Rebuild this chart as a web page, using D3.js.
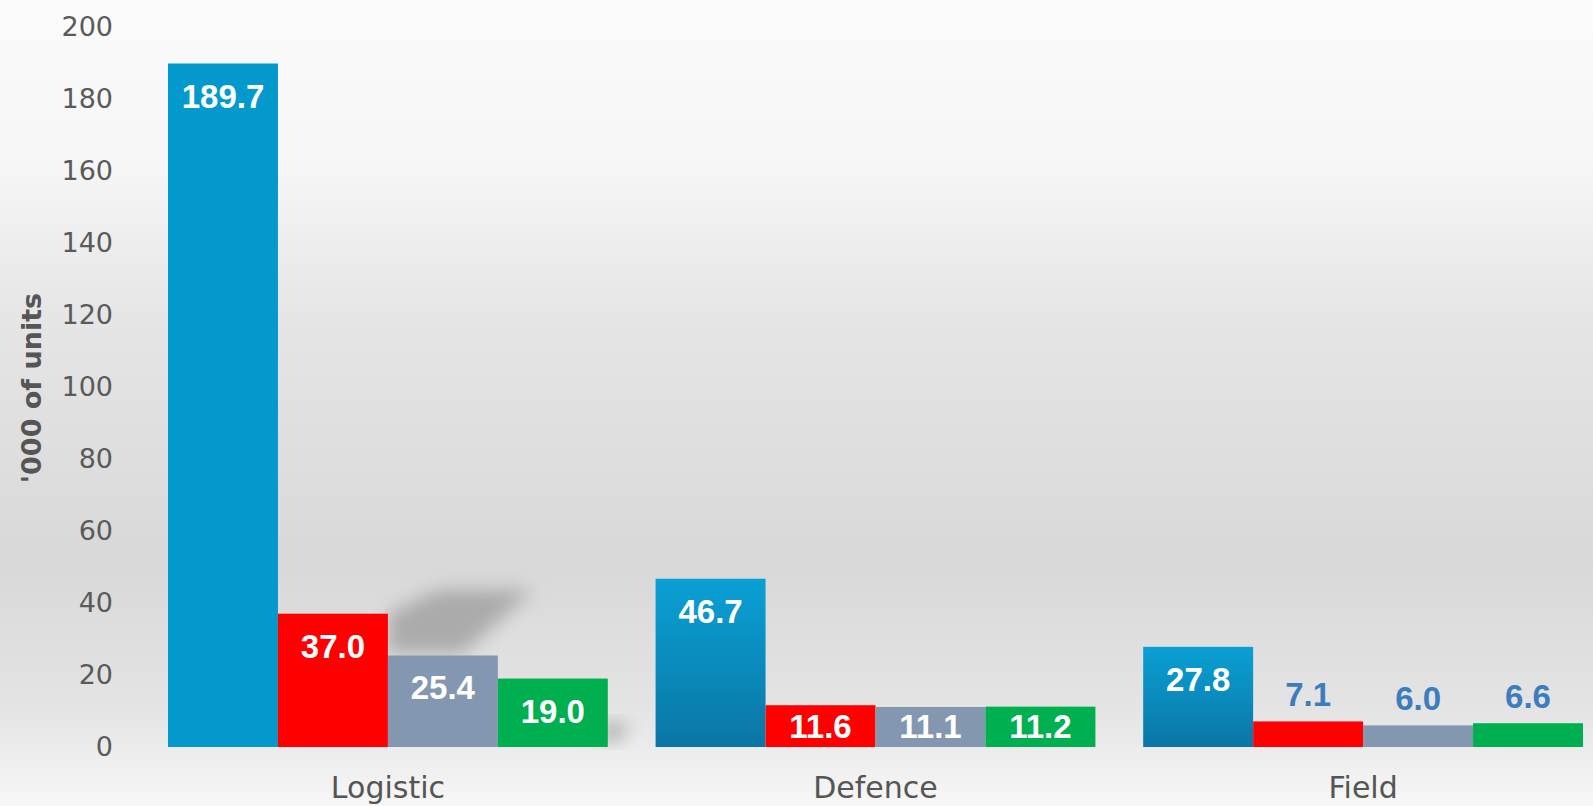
<!DOCTYPE html>
<html>
<head>
<meta charset="utf-8">
<script src="https://cdn.jsdelivr.net/npm/d3@7"></script>
<style>
    body { margin: 0; }
    svg { display: block; }
</style>
</head>
<body>
<script>
// Chart data
const categories = ['Logistic', 'Defence', 'Field'];
const blueSeries = [189.7, 46.7, 27.8];
const redSeries = [37.0, 11.6, 7.1];
const greySeries = [25.4, 11.1, 6.0];
const greenSeries = [19.0, 11.2, 6.6];
const yTicks = [0, 20, 40, 60, 80, 100, 120, 140, 160, 180, 200];
const yTitle = "'000 of units";

const config = {
    width: 1593,
    height: 806,
    baseline: 747,
    top: 26.4,
    left: 168,
    right: 1583,
    colors: ['#0399cd', '#ff0000', '#8497b0', '#00b050'],
    smallLabelColor: '#3d7dbd',
};

const series = [blueSeries, redSeries, greySeries, greenSeries];
const rows = categories.map((c, i) => ({
    category: c,
    bars: series.map((s, j) => ({ category: c, group: i, index: j, value: s[i] })),
}));

const svg = d3.select('body')
    .append('svg')
    .attr('width', config.width)
    .attr('height', config.height);

const defs = svg.append('defs');

const bg = defs.append('linearGradient')
    .attr('id', 'bg')
    .attr('x1', 0).attr('y1', 0).attr('x2', 0).attr('y2', 1);
[[0, '#fbfbfb'], [0.2, '#f6f6f6'], [0.4, '#e5e5e5'], [0.7, '#d8d8d8'], [0.88, '#e4e4e4'], [1, '#f7f7f7']]
    .forEach(([o, c]) => bg.append('stop').attr('offset', o).attr('stop-color', c));

const blueGrad = defs.append('linearGradient')
    .attr('id', 'blueGrad')
    .attr('x1', 0).attr('y1', 0).attr('x2', 0).attr('y2', 1);
blueGrad.append('stop').attr('offset', 0).attr('stop-color', '#0aa0d4');
blueGrad.append('stop').attr('offset', 1).attr('stop-color', '#0a76a5');

defs.append('filter')
    .attr('id', 'blur')
    .attr('x', '-50%').attr('y', '-50%').attr('width', '200%').attr('height', '200%')
    .append('feGaussianBlur')
    .attr('stdDeviation', 9);

svg.append('rect')
    .attr('width', config.width)
    .attr('height', config.height)
    .attr('fill', 'url(#bg)');

// Scales
const y = d3.scaleLinear()
    .domain([0, 200])
    .range([config.baseline, config.top]);

const x0 = d3.scaleBand()
    .domain(categories)
    .range([config.left, config.right])
    .paddingInner(0.098)
    .paddingOuter(0);

const x1 = d3.scaleBand()
    .domain(d3.range(series.length))
    .range([0, x0.bandwidth()])
    .padding(0);

// Shadows cast by the Logistic bars
const redX = x0(categories[0]) + x1(1) + x1.bandwidth();
const redTop = y(redSeries[0]);
svg.append('polygon')
    .attr('points', [
        [redX, redTop], [redX + 50, redTop - 24], [redX + 145, redTop - 24],
        [redX + 75, redTop + 40], [redX, redTop + 40],
    ].join(' '))
    .attr('fill', '#8a8a8a')
    .attr('opacity', 0.6)
    .attr('filter', 'url(#blur)');

const greenX = x0(categories[0]) + x1(3) + x1.bandwidth();
svg.append('polygon')
    .attr('points', [
        [greenX - 5, config.baseline - 24], [greenX + 22, config.baseline - 22],
        [greenX + 10, config.baseline - 6], [greenX - 5, config.baseline - 6],
    ].join(' '))
    .attr('fill', '#7a7a7a')
    .attr('opacity', 0.6)
    .attr('filter', 'url(#blur)');

// Bars
const groups = svg.selectAll('g.group')
    .data(rows).enter()
    .append('g')
    .attr('class', 'group')
    .attr('transform', d => `translate(${x0(d.category)},0)`);

groups.selectAll('rect')
    .data(d => d.bars).enter()
    .append('rect')
        .attr('x', d => x1(d.index))
        .attr('y', d => y(d.value))
        .attr('width', x1.bandwidth())
        .attr('height', d => y(0) - y(d.value))
        .attr('fill', d => (d.index === 0 && d.group > 0) ? 'url(#blueGrad)' : config.colors[d.index]);

groups.selectAll('text')
    .data(d => d.bars).enter()
    .append('text')
        .attr('x', d => x1(d.index) + x1.bandwidth() / 2)
        .attr('y', d => d.value >= 10
            ? Math.min(y(d.value) + 44, y(0) - 9)
            : y(d.value) - 15)
        .attr('text-anchor', 'middle')
        .style('font-family', '"Liberation Sans", Arial, sans-serif')
        .style('font-weight', 'bold')
        .style('font-size', '33px')
        .style('fill', d => d.value >= 10 ? '#ffffff' : config.smallLabelColor)
        .text(d => d.value.toFixed(1));

// Axes
const yAxis = svg.append('g')
    .attr('transform', 'translate(120,0)')
    .call(d3.axisLeft(y).tickValues(yTicks).tickSize(0).tickPadding(7));
yAxis.select('.domain').remove();
yAxis.selectAll('text')
    .style('font-family', '"DejaVu Sans", sans-serif')
    .style('font-size', '27px')
    .style('fill', '#5a5a5a');

const xAxis = svg.append('g')
    .attr('transform', `translate(0,${config.baseline})`)
    .call(d3.axisBottom(x0).tickSize(0).tickPadding(30));
xAxis.select('.domain').remove();
xAxis.selectAll('text')
    .style('font-family', '"DejaVu Sans", sans-serif')
    .style('font-size', '30px')
    .style('fill', '#555555');

svg.append('text')
    .attr('transform', 'translate(41,388) rotate(-90)')
    .attr('text-anchor', 'middle')
    .style('font-family', '"DejaVu Sans", sans-serif')
    .style('font-weight', 'bold')
    .style('font-size', '27px')
    .style('fill', '#555555')
    .text(yTitle);
</script>
</body>
</html>
